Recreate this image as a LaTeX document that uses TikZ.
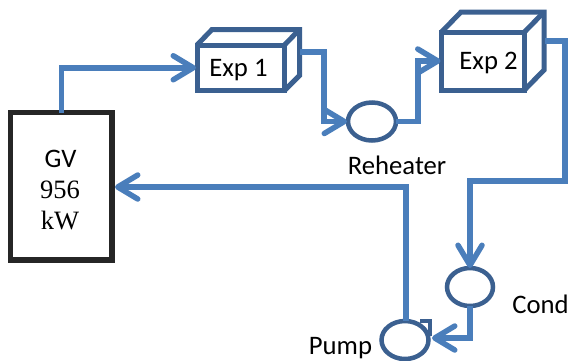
\documentclass[tikz,border=0pt]{standalone}
\usepackage{fontspec}
\setmainfont{Carlito}
\newfontfamily\tnr{Liberation Serif}
\usetikzlibrary{arrows.meta,shapes.geometric}
\definecolor{flow}{HTML}{4A7EBB}
\definecolor{unit}{HTML}{3B6090}
\definecolor{gvline}{HTML}{262626}
\tikzset{
  every node/.style={outer sep=0pt,inner sep=0pt},
  conn/.style={draw=flow,line width=5.5pt,line join=miter,
    -{Straight Barb[length=20pt,width=24pt,round]}},
  boiler/.style={draw=gvline,line width=5.5pt,rectangle,minimum width=101.5pt,minimum height=147.5pt,fill=white},
  expbox/.style={draw=unit,line width=5pt,rectangle,fill=white},
  expline/.style={draw=unit,line width=5pt,line join=miter},
  roundunit/.style={draw=unit,line width=4.5pt,ellipse,minimum width=48pt,minimum height=38pt,fill=white},
  txt/.style={font=\fontsize{26.7}{31.5}\selectfont,text=black,anchor=base},
  txts/.style={font=\fontsize{26.5}{31.5}\selectfont\tnr,text=black,anchor=base},
}
\begin{document}
\begin{tikzpicture}[x=1pt,y=-1pt]
\useasboundingbox (0,0) rectangle (569,360);
\fill[white] (0,0) rectangle (569,360);
% units
\node[boiler] (gv) at (61.25,186.25) {};
\node[expbox,minimum width=87.5pt,minimum height=45.5pt] (exp1) at (240.75,67.75) {};
\draw[expline] (exp1.north west) -- ++(15,-15.5) -- ++(87.5,0) -- ++(0,46) -- (exp1.south east);
\draw[expline] (exp1.north east) -- ++(15,-15.5);
\node[expbox,minimum width=83pt,minimum height=58pt] (exp2) at (483,61) {};
\draw[expline] (exp2.north west) -- ++(19.5,-20) -- ++(83,0) -- ++(0,58) -- (exp2.south east);
\draw[expline] (exp2.north east) -- ++(19.5,-20);
\node[roundunit] (rh) at (372,121.5) {};
\node[roundunit,minimum width=46pt] (cond) at (470,287) {};
\node[roundunit,minimum width=47pt] (pump) at (405,340) {};
\coordinate (pumptab) at (430,336);
\draw[unit,line width=4.5pt,line join=miter] (pump.north) ++(15,0) -- ++(10,0) -- (pumptab);
\coordinate (exp1out) at (300,52);
\coordinate (exp2out) at (545,41);
\coordinate (gvin) at (115,187);
\coordinate (pumpin) at (432,338);
% connectors
\draw[conn] (gv.north) |- ([xshift=-1pt]exp1.west);
\draw[conn] (exp1out) -- ++(24,0) |- ([xshift=-1pt]rh.west);
\draw[conn] (rh.east) -- ++(22,0) |- ([xshift=-1pt]exp2.west);
\draw[conn] (exp2out) -- ++(20,0) -- ++(0,140) -| (cond.north);
\draw[conn] (cond.south) |- (pumpin);
\draw[conn] (pump.north) ++(1,0) |- (gvin);
% labels
\node[txt] (gvt) at (60.5,167) {GV};
\node[txts] (gvn) at (60,198) {956};
\node[txts] (gvk) at (60,229) {kW};
\node[txt] (e1t) at (238.5,76) {Exp 1};
\node[txt] (e2t) at (488.5,69) {Exp 2};
\node[txt] (rht) at (397,174) {Reheater};
\node[txt] (cdt) at (540.5,313) {Cond};
\node[txt] (pmt) at (340.5,354) {Pump};
\end{tikzpicture}
\end{document}
